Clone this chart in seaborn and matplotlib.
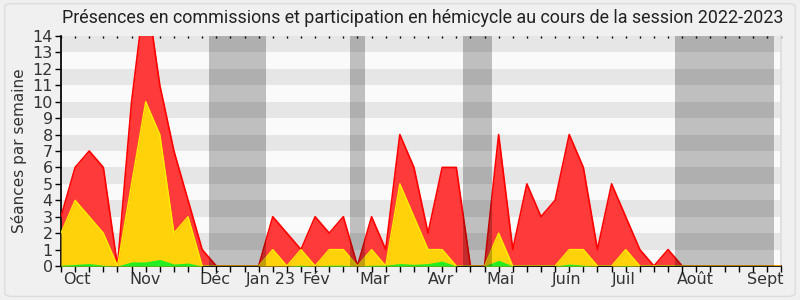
import matplotlib
matplotlib.use("Agg")
import matplotlib.pyplot as plt
from matplotlib.patches import FancyBboxPatch
import seaborn as sns
import numpy as np
import pandas as pd

# ---- data (weekly, session 2022-2023) ----
weeks = list(range(52))
hemicycle = [3, 6, 7, 6, 0, 10, 17, 11, 7, 4, 1, 0, 0, 0, 0, 3, 2, 1, 3, 2,
             3, 0, 3, 1, 8, 6, 2, 6, 6, 0, 0, 8, 1, 5, 3, 4, 8, 6, 1, 5,
             3, 1, 0, 1, 0, 0, 0, 0, 0, 0, 0, 0]
commissions = [2, 4, 3, 2, 0, 5, 10, 8, 2, 3, 0, 0, 0, 0, 0, 1, 0, 1, 0, 1,
               1, 0, 1, 0, 5, 3, 1, 1, 0, 0, 0, 2, 0, 0, 0, 0, 1, 1, 0, 0,
               1, 0, 0, 0, 0, 0, 0, 0, 0, 0, 0, 0]
presence = [0.05, 0.1, 0.15, 0.05, 0, 0.25, 0.25, 0.4, 0.12, 0.18, 0, 0, 0, 0, 0, 0, 0, 0.05, 0, 0.05,
            0.05, 0, 0.05, 0.05, 0.15, 0.1, 0.15, 0.3, 0, 0, 0, 0.35, 0, 0, 0, 0, 0.12, 0.05, 0, 0,
            0.03, 0, 0, 0, 0, 0, 0, 0, 0, 0, 0, 0]
month_labels = ["Oct", "Nov", "Déc", "Jan 23", "Fév", "Mar", "Avr", "Mai", "Juin", "Juil", "Août", "Sept"]
month_pos = [1.1, 5.95, 10.9, 14.85, 18.1, 22.2, 26.9, 31.1, 35.8, 39.9, 44.9, 49.9]
holiday_start = [10.5, 20.5, 28.5, 43.5]
holiday_end = [14.5, 21.5, 30.5, 50.5]

df = pd.DataFrame({"week": weeks, "hemicycle": hemicycle,
                   "commissions": commissions, "presence": presence})

sns.set_theme(style="white")
plt.rcParams["font.family"] = ["DejaVu Sans"]

fig = plt.figure(figsize=(8, 3), dpi=100, facecolor="#f0f0f0")
frame = FancyBboxPatch((0.006, 0.012), 0.988, 0.976, boxstyle="round,pad=0,rounding_size=0.01",
                       transform=fig.transFigure, facecolor="#f0f0f0", edgecolor="#dcdcdc",
                       lw=1, zorder=-10)
fig.patches.append(frame)

ax = fig.add_axes([0.07625, 0.1133, 0.9, 0.7667])
ax.set_facecolor("#fafafa")

# alternating horizontal stripes
for k in range(1, 14, 2):
    ax.axhspan(k, k + 1, color="#e6e6e6", lw=0, zorder=0)

# areas
ax.fill_between(df["week"], 0, df["hemicycle"], color="#ff3a3a", lw=0, zorder=2)
sns.lineplot(data=df, x="week", y="hemicycle", color="#ff0000", lw=1.2, ax=ax, zorder=3)
ax.fill_between(df["week"], 0, df["commissions"], color="#ffd20a", lw=0, zorder=4)
sns.lineplot(data=df, x="week", y="commissions", color="#ffee00", lw=1.0, ax=ax, zorder=5)
ax.fill_between(df["week"], 0, df["presence"], color="#22ee22", lw=0, zorder=6)

# holiday bands
for s, e in zip(holiday_start, holiday_end):
    ax.axvspan(s, e, color="black", alpha=0.235, lw=0, zorder=7)

ax.set_xlim(0, 51)
ax.set_ylim(0, 14)
ax.set_yticks(range(0, 15))
ax.set_xticks(month_pos)
ax.set_xticklabels(month_labels)
ax.set_xticks(weeks, minor=True)
ax.tick_params(axis="x", which="major", length=0, pad=4, labelsize=11.5, colors="#333333")
ax.tick_params(axis="x", which="minor", length=4, width=1, color="black", direction="out",
               bottom=True, top=False)
ax.tick_params(axis="y", which="major", length=4, width=1, color="black", direction="out",
               left=True, labelsize=11.5, labelcolor="#333333", pad=2)
# dotted top ticks
sec = ax.secondary_xaxis("top")
sec.set_xticks(weeks)
sec.set_xticklabels([])
sec.tick_params(length=1.5, width=1, color="black", direction="in")
sec.spines["top"].set_visible(False)

ax.set_xlabel("")
ax.set_ylabel("Séances par semaine", fontsize=11, color="#333333", labelpad=4)

ax.spines["top"].set_visible(False)
ax.spines["right"].set_color("#dddddd")
ax.spines["left"].set_color("black")
ax.spines["bottom"].set_color("black")

fig.text(0.528, 0.94, "Présences en commissions et participation en hémicycle au cours de la session 2022-2023",
         ha="center", va="center", fontsize=12.85, color="#222222", family=["Roboto", "DejaVu Sans"])

fig.savefig("out.png", dpi=100, facecolor=fig.get_facecolor())
